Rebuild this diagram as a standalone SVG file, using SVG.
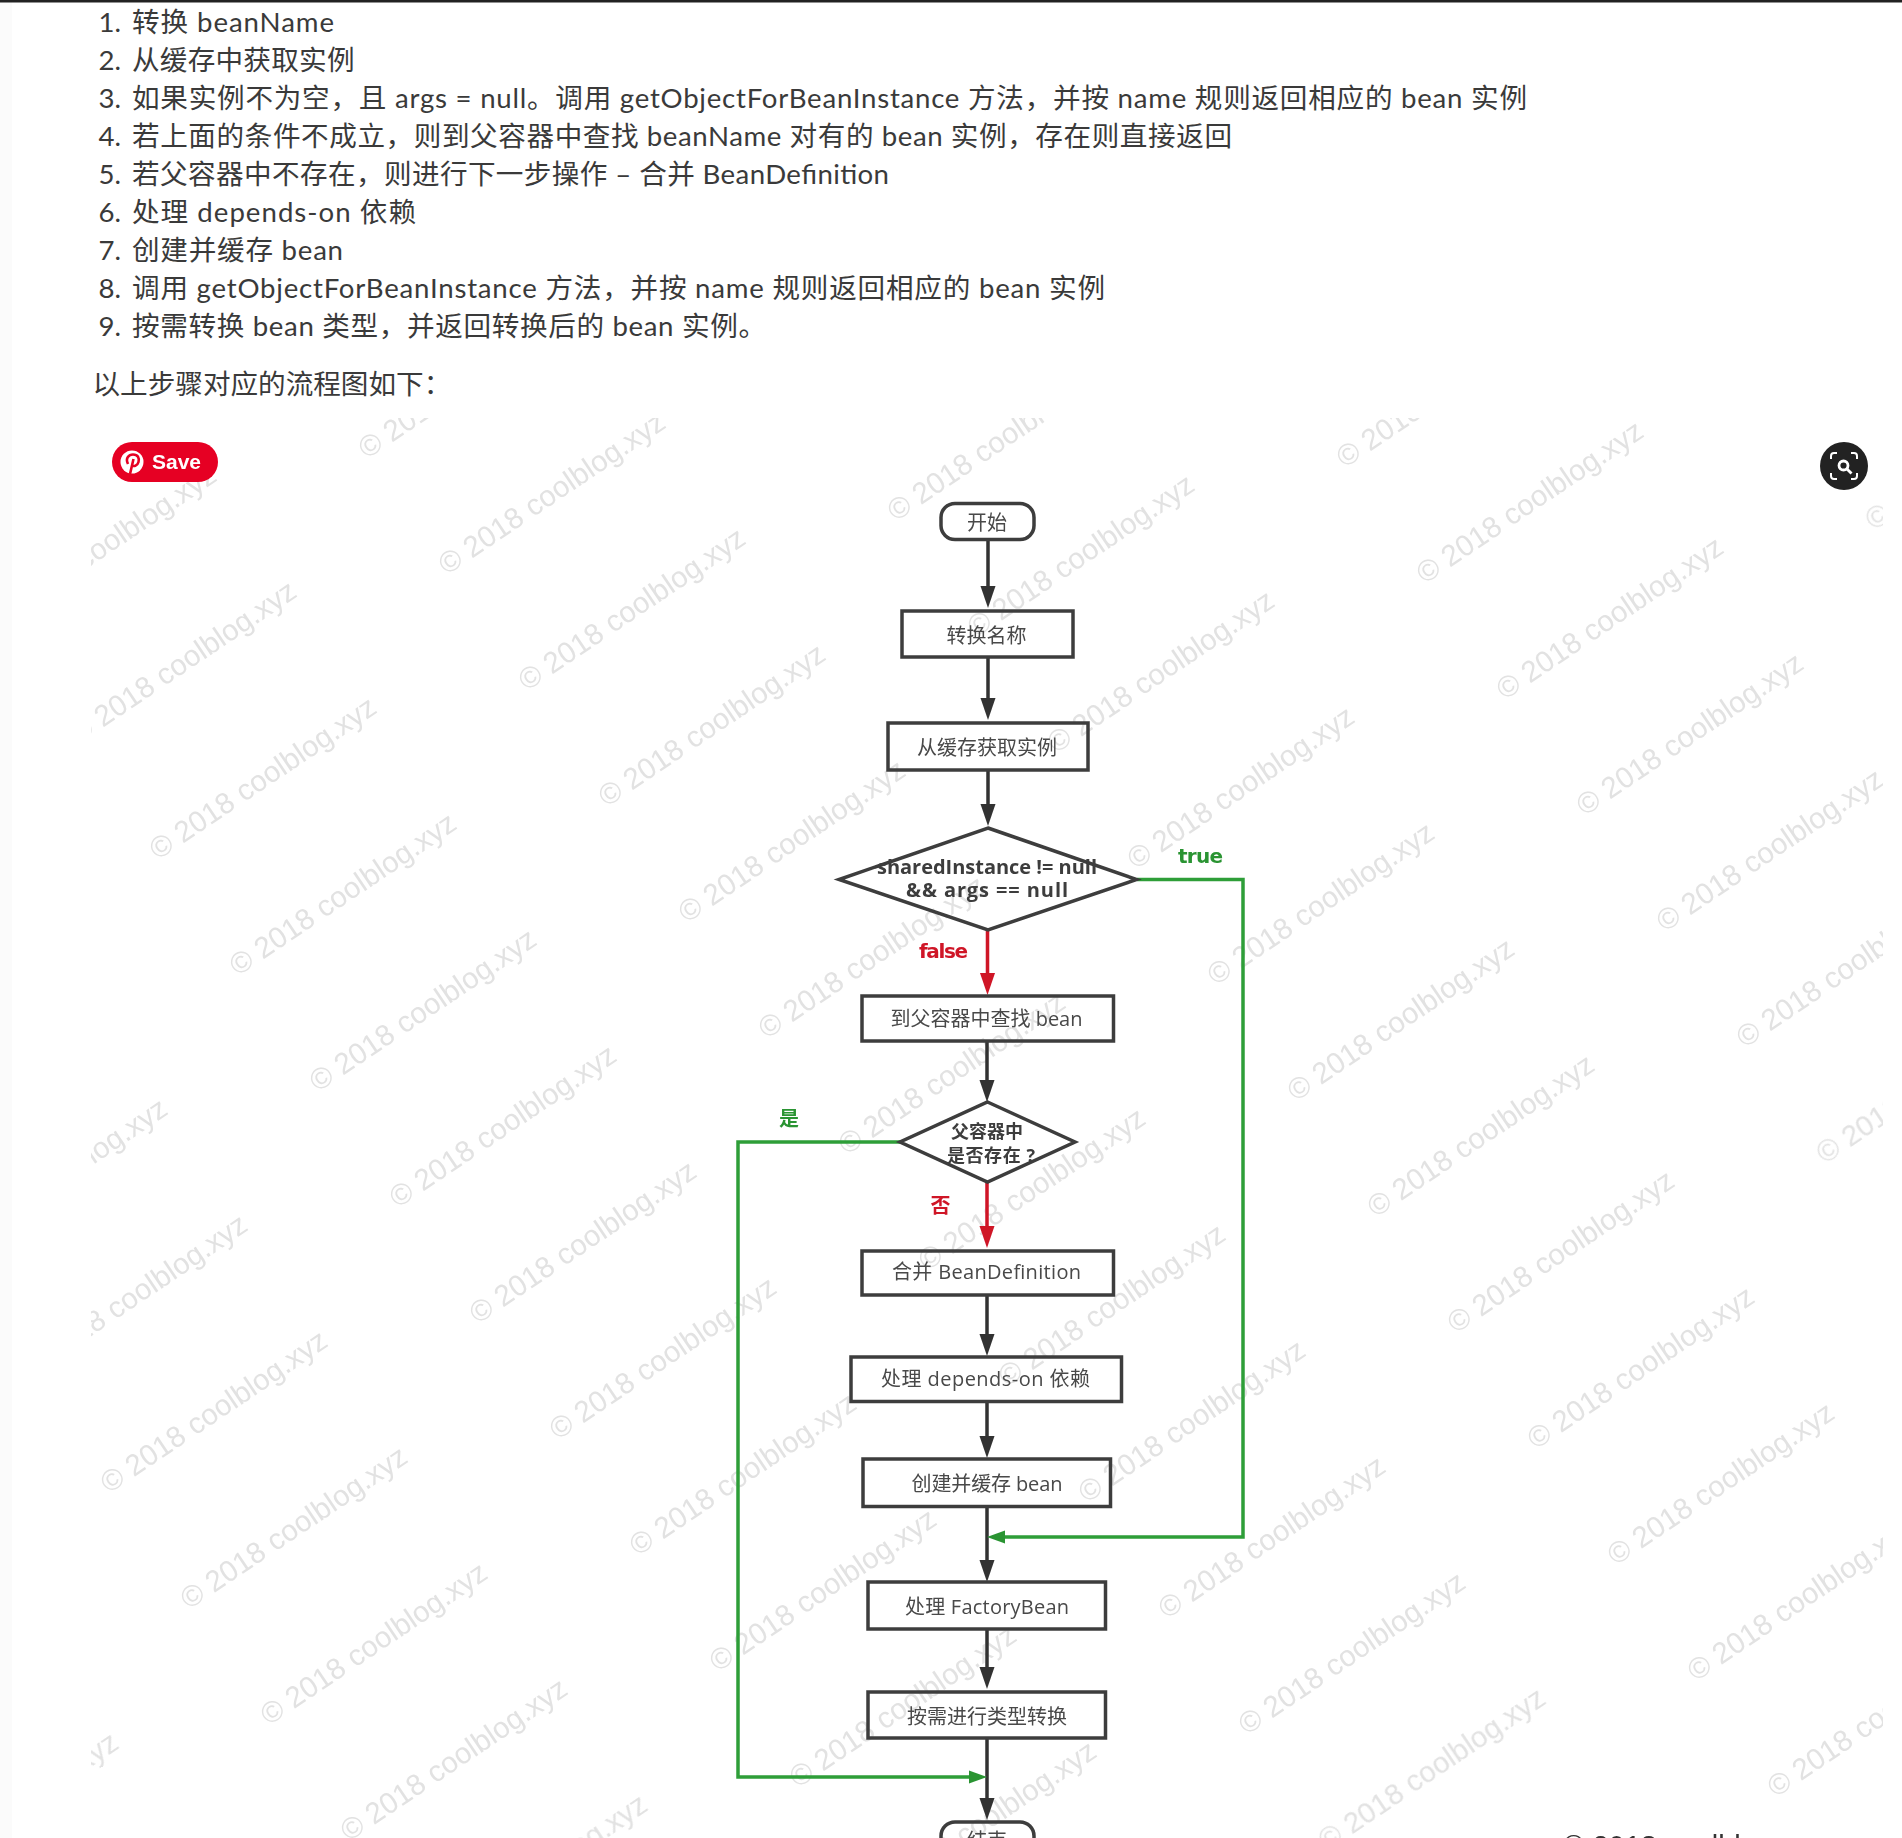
<svg xmlns="http://www.w3.org/2000/svg" xmlns:xlink="http://www.w3.org/1999/xlink" width="1902" height="1838" viewBox="0 0 1902 1838">
<style>
.t{font-family:Lato,"Noto Sans CJK SC",sans-serif;font-size:27.6px;fill:#3a3a3a}
.wm{font-family:"Liberation Sans",sans-serif;font-size:29.5px;fill:#e2e2e2}
.b{fill:none;stroke:#3c3c3c;stroke-width:3.5}
.n{font-family:"Open Sans","Noto Sans CJK SC",sans-serif;font-size:20px;fill:#484848;text-anchor:middle}
.d{font-family:"Open Sans","Noto Sans CJK SC",sans-serif;font-size:20px;font-weight:700;fill:#3c3c3c;text-anchor:middle}
.c{fill:none;stroke-width:3.5}
.k{stroke:#333}.r{stroke:#cf1428}.g{stroke:#2f9e38}
.lb{font-family:"DejaVu Sans","Noto Sans CJK SC",sans-serif;font-size:20px;font-weight:700;text-anchor:middle}
</style>
<defs>
<filter id="soft" x="0" y="0" width="100%" height="100%" filterUnits="userSpaceOnUse"><feGaussianBlur stdDeviation="0.45"/></filter>
<marker id="hk" markerUnits="userSpaceOnUse" markerWidth="23" markerHeight="16" refX="2" refY="8" orient="auto"><path d="M0,0.5 L22,8 L0,15.5Z" fill="#333"/></marker>
<marker id="hr" markerUnits="userSpaceOnUse" markerWidth="23" markerHeight="16" refX="2" refY="8" orient="auto"><path d="M0,0.5 L22,8 L0,15.5Z" fill="#cf1428"/></marker>
<marker id="hg" markerUnits="userSpaceOnUse" markerWidth="19" markerHeight="14" refX="2" refY="7" orient="auto"><path d="M0,0.5 L18,7 L0,13.5Z" fill="#2a9433"/></marker>
<text id="w" class="wm" transform="rotate(-34)">© 2018 coolblog.xyz</text>
<clipPath id="imgclip"><rect x="91" y="418" width="1792" height="1420"/></clipPath>
</defs>
<rect width="1902" height="1838" fill="#fff"/>
<rect width="12" height="1838" fill="#fbfbfb"/>
<rect width="1902" height="2.500" fill="#222"/>
<g id="steps">
<text class="t" x="98.500" y="32">1.</text><text class="t" x="132" y="32" textLength="202">转换 beanName</text>
<text class="t" x="98.500" y="70">2.</text><text class="t" x="132" y="70" textLength="222.500">从缓存中获取实例</text>
<text class="t" x="98.500" y="108">3.</text><text class="t" x="132" y="108" textLength="1395">如果实例不为空，且 args = null。调用 getObjectForBeanInstance 方法，并按 name 规则返回相应的 bean 实例</text>
<text class="t" x="98.500" y="146">4.</text><text class="t" x="132" y="146" textLength="1100">若上面的条件不成立，则到父容器中查找 beanName 对有的 bean 实例，存在则直接返回</text>
<text class="t" x="98.500" y="184">5.</text><text class="t" x="132" y="184" textLength="757">若父容器中不存在，则进行下一步操作 – 合并 BeanDefinition</text>
<text class="t" x="98.500" y="222">6.</text><text class="t" x="132" y="222" textLength="284">处理 depends-on 依赖</text>
<text class="t" x="98.500" y="260">7.</text><text class="t" x="132" y="260" textLength="211">创建并缓存 bean</text>
<text class="t" x="98.500" y="298">8.</text><text class="t" x="132" y="298" textLength="973">调用 getObjectForBeanInstance 方法，并按 name 规则返回相应的 bean 实例</text>
<text class="t" x="98.500" y="336">9.</text><text class="t" x="132" y="336" textLength="634">按需转换 bean 类型，并返回转换后的 bean 实例。</text>
<text class="t" x="92.500" y="394">以上步骤对应的流程图如下：</text>
</g>
<g id="watermarks" clip-path="url(#imgclip)"><g transform="translate(-6,0)" filter="url(#soft)">
<use xlink:href="#w" transform="translate(902,522)"/><use xlink:href="#w" transform="translate(982,638)"/><use xlink:href="#w" transform="translate(1062,754)"/><use xlink:href="#w" transform="translate(1142,870)"/><use xlink:href="#w" transform="translate(1222,986)"/><use xlink:href="#w" transform="translate(1302,1102)"/><use xlink:href="#w" transform="translate(1382,1218)"/><use xlink:href="#w" transform="translate(1462,1334)"/><use xlink:href="#w" transform="translate(1542,1450)"/><use xlink:href="#w" transform="translate(1622,1566)"/><use xlink:href="#w" transform="translate(1702,1682)"/><use xlink:href="#w" transform="translate(1782,1798)"/>
<use xlink:href="#w" transform="translate(373,459.5)"/><use xlink:href="#w" transform="translate(453,575.5)"/><use xlink:href="#w" transform="translate(533,691.5)"/><use xlink:href="#w" transform="translate(613,807.5)"/><use xlink:href="#w" transform="translate(693,923.5)"/><use xlink:href="#w" transform="translate(773,1039.5)"/><use xlink:href="#w" transform="translate(853,1155.5)"/><use xlink:href="#w" transform="translate(933,1271.5)"/><use xlink:href="#w" transform="translate(1013,1387.5)"/><use xlink:href="#w" transform="translate(1093,1503.5)"/><use xlink:href="#w" transform="translate(1173,1619.5)"/><use xlink:href="#w" transform="translate(1253,1735.5)"/><use xlink:href="#w" transform="translate(1333,1851.5)"/>
<use xlink:href="#w" transform="translate(1351,468.5)"/><use xlink:href="#w" transform="translate(1431,584.5)"/><use xlink:href="#w" transform="translate(1511,700.5)"/><use xlink:href="#w" transform="translate(1591,816.5)"/><use xlink:href="#w" transform="translate(1671,932.5)"/><use xlink:href="#w" transform="translate(1751,1048.5)"/><use xlink:href="#w" transform="translate(1831,1164.5)"/>
<use xlink:href="#w" transform="translate(1880,531)"/>
<use xlink:href="#w" transform="translate(4,628.5)"/><use xlink:href="#w" transform="translate(84,744.5)"/><use xlink:href="#w" transform="translate(164,860.5)"/><use xlink:href="#w" transform="translate(244,976.5)"/><use xlink:href="#w" transform="translate(324,1092.5)"/><use xlink:href="#w" transform="translate(404,1208.5)"/><use xlink:href="#w" transform="translate(484,1324.5)"/><use xlink:href="#w" transform="translate(564,1440.5)"/><use xlink:href="#w" transform="translate(644,1556.5)"/><use xlink:href="#w" transform="translate(724,1672.5)"/><use xlink:href="#w" transform="translate(804,1788.5)"/><use xlink:href="#w" transform="translate(884,1904.5)"/>
<use xlink:href="#w" transform="translate(-45,1262)"/><use xlink:href="#w" transform="translate(35,1378)"/><use xlink:href="#w" transform="translate(115,1494)"/><use xlink:href="#w" transform="translate(195,1610)"/><use xlink:href="#w" transform="translate(275,1726)"/><use xlink:href="#w" transform="translate(355,1842)"/><use xlink:href="#w" transform="translate(435,1958)"/>
<use xlink:href="#w" transform="translate(-94,1896)"/>
</g></g>
<text x="1563" y="1856" font-family="'Liberation Sans',sans-serif" font-size="29" fill="#333">© 2018 coolblog.xyz</text>
<g id="save-button">
<rect x="112" y="442" width="106" height="40" rx="20" fill="#e60023"/>
<circle cx="132" cy="462" r="11.500" fill="#fff"/>
<path d="M130,474 L133.500,459 M128,464 C125,458 129,454.500 133,454.500 C138,454.500 139.500,458 138.500,462 C137.500,466 133.500,467 131.500,465" fill="none" stroke="#e60023" stroke-width="2.6"/>
<text x="152" y="469" font-family="'Liberation Sans',sans-serif" font-weight="700" font-size="21" fill="#fff">Save</text>
</g>
<g id="lens-button">
<circle cx="1844" cy="466" r="24" fill="#222"/>
<path d="M1831,459 V456 Q1831,453 1834,453 H1837 M1851,453 H1854 Q1857,453 1857,456 V459 M1857,473 V476 Q1857,479 1854,479 H1851 M1837,479 H1834 Q1831,479 1831,476 V473" fill="none" stroke="#fff" stroke-width="2"/>
<circle cx="1843.500" cy="465.500" r="4.500" fill="none" stroke="#fff" stroke-width="2.800"/>
<path d="M1847,469 L1851.500,473.500" stroke="#fff" stroke-width="2.800"/>
</g>
<g id="connectors" filter="url(#soft)">
<path class="c k" d="M988,539 V588" marker-end="url(#hk)"/>
<path class="c k" d="M988,657 V700" marker-end="url(#hk)"/>
<path class="c k" d="M988,770 V806" marker-end="url(#hk)"/>
<path class="c r" d="M987.500,930 V975" marker-end="url(#hr)"/>
<path class="c k" d="M987,1041 V1082" marker-end="url(#hk)"/>
<path class="c r" d="M987,1182 V1228" marker-end="url(#hr)"/>
<path class="c k" d="M987,1295 V1336" marker-end="url(#hk)"/>
<path class="c k" d="M987,1401 V1438" marker-end="url(#hk)"/>
<path class="c k" d="M987,1507 V1562" marker-end="url(#hk)"/>
<path class="c k" d="M987,1629 V1669" marker-end="url(#hk)"/>
<path class="c k" d="M987,1738 V1800" marker-end="url(#hk)"/>
<path class="c g" d="M1137,879.500 H1243 V1537 H1003" marker-end="url(#hg)"/>
<path class="c g" d="M900,1142 H738 V1777 H971" marker-end="url(#hg)"/>
</g>
<g id="start" filter="url(#soft)"><rect class="b" x="941" y="503.500" width="93" height="36" rx="14"/><text class="n" x="987" y="530">开始</text></g>
<g id="convert-name" filter="url(#soft)"><rect class="b" x="902" y="611" width="171" height="46"/><text class="n" x="986.500" y="643">转换名称</text></g>
<g id="get-cache" filter="url(#soft)"><rect class="b" x="888" y="723" width="200" height="47"/><text class="n" x="987" y="755">从缓存获取实例</text></g>
<g id="check-shared" filter="url(#soft)"><path class="b" d="M988,828 L1136.500,879.500 L988,930 L839,879.500Z"/><text class="d" x="987" y="874" textLength="220">sharedInstance != null</text><text class="d" x="987" y="896.500" textLength="162">&amp;&amp; args == null</text></g>
<g id="find-parent" filter="url(#soft)"><rect class="b" x="862" y="996" width="251.500" height="45"/><text class="n" x="986.500" y="1026" textLength="192">到父容器中查找 bean</text></g>
<g id="check-parent" filter="url(#soft)"><path class="b" d="M987.500,1102 L1075,1142 L987.500,1182 L900,1142Z"/><text class="d" x="987" y="1138" style="font-size:18px">父容器中</text><text class="d" x="991" y="1161.500" style="font-size:18px" textLength="88">是否存在 ?</text></g>
<g id="merge-def" filter="url(#soft)"><rect class="b" x="862" y="1251" width="251.500" height="44"/><text class="n" x="986.500" y="1279" textLength="189">合并 BeanDefinition</text></g>
<g id="depends-on" filter="url(#soft)"><rect class="b" x="851" y="1357" width="270.500" height="44.500"/><text class="n" x="985.500" y="1386" textLength="209">处理 depends-on 依赖</text></g>
<g id="create-bean" filter="url(#soft)"><rect class="b" x="863" y="1459" width="247.500" height="47.500"/><text class="n" x="987" y="1491" textLength="151">创建并缓存 bean</text></g>
<g id="factory-bean" filter="url(#soft)"><rect class="b" x="868" y="1582" width="237.500" height="47"/><text class="n" x="987" y="1614" textLength="164">处理 FactoryBean</text></g>
<g id="convert-type" filter="url(#soft)"><rect class="b" x="868" y="1692" width="237.500" height="46"/><text class="n" x="987" y="1724">按需进行类型转换</text></g>
<g id="end" filter="url(#soft)"><rect class="b" x="941" y="1822" width="93" height="36" rx="14"/><text class="n" x="987" y="1848">结束</text></g>
<g id="edge-labels" filter="url(#soft)">
<text class="lb" x="1200.500" y="863" fill="#2a9433" textLength="45">true</text>
<text class="lb" x="943.500" y="958" fill="#cf1428" textLength="49">false</text>
<text class="lb" x="789" y="1126" fill="#2a9433">是</text>
<text class="lb" x="940.500" y="1213" fill="#cf1428">否</text>
</g>
</svg>
